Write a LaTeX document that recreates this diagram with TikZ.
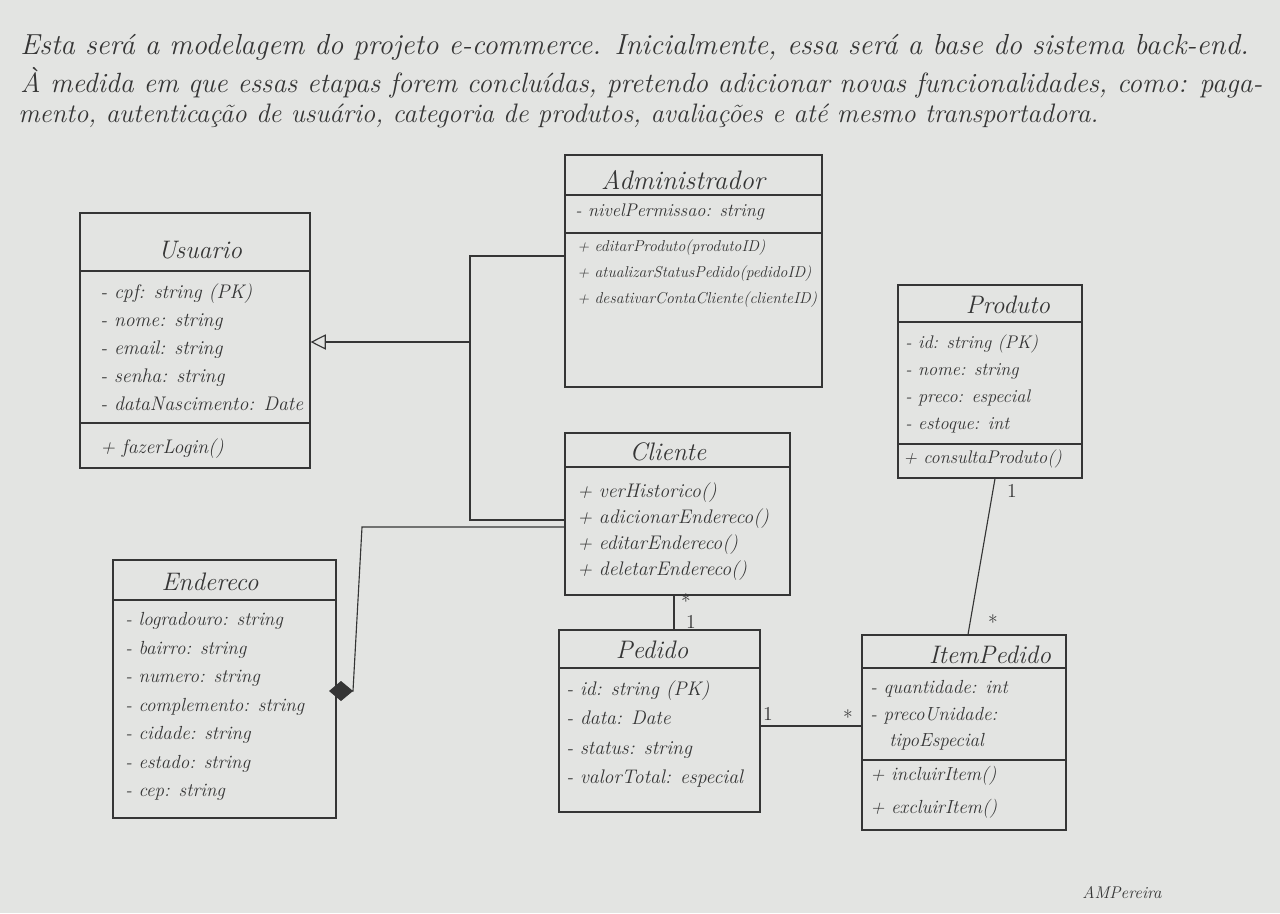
\documentclass[tikz,border=0pt]{standalone}
\usepackage{fontspec}
\usepackage{xcolor}
\definecolor{paperGray}{HTML}{E3E4E2}
\definecolor{inkGray}{HTML}{353535}
\usetikzlibrary{arrows.meta}
\tikzset{
    % Class frame, size given in pixels of the sheet
    classbox/.style 2 args={
        draw=inkGray,
        line width=0.8pt,
        minimum width=#1*0.025cm,
        minimum height=#2*0.025cm,
        inner sep=0pt,
    },
    % Class name
    classtitle/.style={
        font=\fontsize{18}{20}\selectfont\itshape,
        text=inkGray,
        inner sep=0pt,
    },
    % Attributes and methods
    member/.style={
        font=\fontsize{14}{19}\selectfont\itshape,
        text=inkGray,
        align=left,
        anchor=north west,
        inner sep=0pt,
    },
    % Compartment lines and connectors
    divider/.style={draw=inkGray, line width=0.8pt},
    link/.style={draw=inkGray, line width=0.8pt},
    inherit/.style={
        link,
        -{Triangle[open, length=3.8mm, width=3.8mm]},
    },
    compose/.style={
        link,
        -{Diamond[length=6mm, width=5mm, fill=inkGray]},
    },
    % Multiplicities
    mult/.style={
        font=\fontsize{14}{16}\selectfont,
        text=inkGray,
        inner sep=0pt,
    },
    % Handwritten note at the top
    note/.style={
        font=\fontsize{19}{22}\selectfont\itshape,
        text=inkGray,
        anchor=base west,
        inner sep=0pt,
    },
}

\begin{document}
\begin{tikzpicture}[x=0.025cm, y=-0.025cm]
    \fill[paperGray] (0,0) rectangle (1280,913);
    \useasboundingbox (0,0) rectangle (1280,913);

    % Note
    \node (line1) [note, font=\fontsize{20.6}{22}\selectfont\itshape] at (20,55) {Esta será a modelagem do projeto e-commerce. Inicialmente, essa será a base do sistema back-end.};
    \node (line2) [note, font=\fontsize{19.8}{22}\selectfont\itshape] at (20,93) {À medida em que essas etapas forem concluídas, pretendo adicionar novas funcionalidades, como: paga-};
    \node (line3) [note] at (18,122) {mento, autenticação de usuário, categoria de produtos, avaliações e até mesmo transportadora.};

    % Classes
    \node (adm) [classbox={257}{232}] at (693.5,271) {};
    \node (usr) [classbox={230}{255}] at (195,340.5) {};
    \node (prod) [classbox={184}{193}] at (990,381.5) {};
    \node (cli) [classbox={225}{162}] at (677.5,514) {};
    \node (end) [classbox={223}{258}] at (224.5,689) {};
    \node (ped) [classbox={201}{182}] at (659.5,721) {};
    \node (item) [classbox={204}{195}] at (964,732.5) {};

    % Compartments
    \draw [divider] (adm.west |- 0,195) -- (adm.east |- 0,195);
    \draw [divider] (adm.west |- 0,233) -- (adm.east |- 0,233);
    \draw [divider] (usr.west |- 0,271) -- (usr.east |- 0,271);
    \draw [divider] (usr.west |- 0,423) -- (usr.east |- 0,423);
    \draw [divider] (prod.west |- 0,322) -- (prod.east |- 0,322);
    \draw [divider] (prod.west |- 0,444) -- (prod.east |- 0,444);
    \draw [divider] (cli.west |- 0,467) -- (cli.east |- 0,467);
    \draw [divider] (end.west |- 0,600) -- (end.east |- 0,600);
    \draw [divider] (ped.west |- 0,668) -- (ped.east |- 0,668);
    \draw [divider] (item.west |- 0,668) -- (item.east |- 0,668);
    \draw [divider] (item.west |- 0,760) -- (item.east |- 0,760);

    % Names
    \node (admName) [classtitle, font=\fontsize{19}{21}\selectfont\itshape] at (683,180) {Administrador};
    \node (usrName) [classtitle] at (200,250) {Usuario};
    \node (prodName) [classtitle] at (1008,305) {Produto};
    \node (cliName) [classtitle] at (668,452) {Cliente};
    \node (endName) [classtitle] at (210,582) {Endereco};
    \node (pedName) [classtitle] at (652,650) {Pedido};
    \node (itemName) [classtitle] at (990,655) {ItemPedido};

    % Members
    \node (admAttr) [member, font=\fontsize{13}{19}\selectfont\itshape] at (575,204) {- nivelPermissao: string};
    \node (admOps) [member, font=\fontsize{11.2}{18.5}\selectfont\itshape] at (577,239)
        {+ editarProduto(produtoID)\\+ atualizarStatusPedido(pedidoID)\\+ desativarContaCliente(clienteID)};
    \node (usrAttr) [member, font=\fontsize{14}{20}\selectfont\itshape] at (100,283)
        {- cpf: string (PK)\\- nome: string\\- email: string\\- senha: string\\- dataNascimento: Date};
    \node (usrOps) [member] at (100,438) {+ fazerLogin()};
    \node (prodAttr) [member, font=\fontsize{13}{19}\selectfont\itshape] at (905,335)
        {- id: string (PK)\\- nome: string\\- preco: especial\\- estoque: int};
    \node (prodOps) [member, font=\fontsize{13}{19}\selectfont\itshape] at (903,450) {+ consultaProduto()};
    \node (cliOps) [member, font=\fontsize{14}{18.5}\selectfont\itshape] at (577,482)
        {+ verHistorico()\\+ adicionarEndereco()\\+ editarEndereco()\\+ deletarEndereco()};
    \node (endAttr) [member, font=\fontsize{13.5}{20.3}\selectfont\itshape] at (125,612)
        {- logradouro: string\\- bairro: string\\- numero: string\\- complemento: string\\- cidade: string\\- estado: string\\- cep: string};
    \node (pedAttr) [member, font=\fontsize{14}{21}\selectfont\itshape] at (566,680)
        {- id: string (PK)\\- data: Date\\- status: string\\- valorTotal: especial};
    \node (itemAttr) [member, font=\fontsize{13.5}{19}\selectfont\itshape] at (870,680)
        {- quantidade: int\\- precoUnidade:\\\hspace{1em}tipoEspecial};
    \node (itemOps) [member, font=\fontsize{13.5}{23.5}\selectfont\itshape] at (870,766)
        {+ incluirItem()\\+ excluirItem()};

    % Generalization
    \coordinate (genMid) at (470,342);
    \coordinate (genTop) at (470,256);
    \coordinate (genLow) at (470,520);
    \draw [link] (adm.west |- genTop) -- (genTop) -- (genLow) -- (cli.west |- genLow);
    \draw [inherit] (genMid) -- (usr.east |- genMid);

    % Composition
    \coordinate (compBend) at (362,527);
    \coordinate (compTip) at (353,691);
    \draw [compose] (cli.west |- compBend) -- (compBend) -- (compTip) -- (329,0 |- compTip);

    % Associations
    \draw [link] (674,0 |- cli.south) -- (674,0 |- ped.north);
    \draw [link] (ped.east |- 0,726) -- (item.west |- 0,726);
    \draw [link] (995,0 |- prod.south) -- (968,0 |- item.north);

    \node (m1) [mult] at (686,601) {*};
    \node (m2) [mult] at (691,622) {1};
    \node (m3) [mult] at (768,714) {1};
    \node (m4) [mult] at (848,717) {*};
    \node (m5) [mult] at (1012,491) {1};
    \node (m6) [mult] at (993,622) {*};

    % Signature
    \node (sign) [classtitle, font=\fontsize{12}{14}\selectfont\itshape] at (1122,893) {AMPereira};
\end{tikzpicture}
\end{document}
